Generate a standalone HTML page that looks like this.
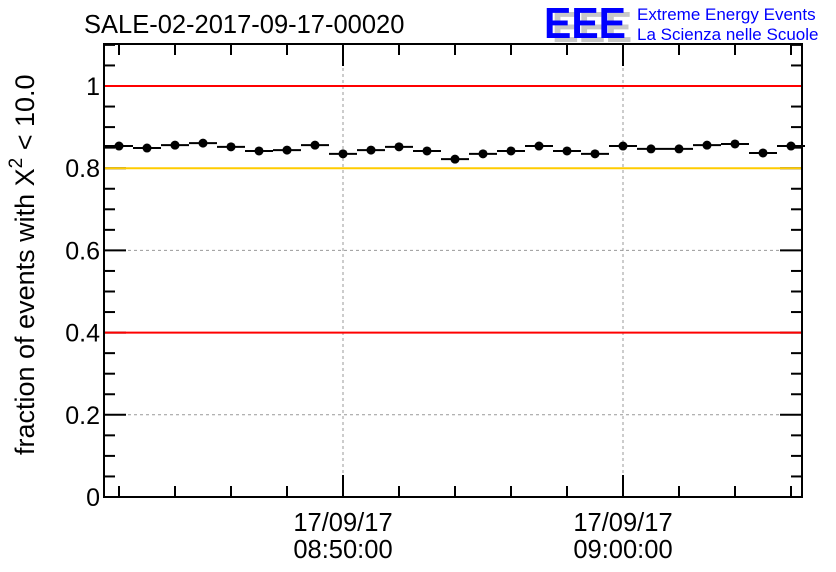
<!DOCTYPE html>
<html><head><meta charset="utf-8"><style>
body{margin:0;background:#fff;width:836px;height:572px;overflow:hidden}
svg{display:block;font-family:"Liberation Sans",sans-serif}
</style></head><body>
<svg id="chart" width="836" height="572" viewBox="0 0 836 572"></svg>
<script>
const times=["08:42","08:43","08:44","08:45","08:46","08:47","08:48","08:49","08:50","08:51","08:52","08:53","08:54","08:55","08:56","08:57","08:58","08:59","09:00","09:01","09:02","09:03","09:04","09:05","09:06"];
const fractions=[0.854,0.849,0.856,0.861,0.852,0.842,0.844,0.856,0.835,0.844,0.852,0.842,0.822,0.835,0.842,0.854,0.842,0.835,0.854,0.847,0.847,0.856,0.859,0.837,0.854];
const yTicks=[0,0.2,0.4,0.6,0.8,1];
const yTickLabels=["0","0.2","0.4","0.6","0.8","1"];
const xLabels=["08:50","09:00"];
const refLines=[{v:1,c:"#ff0000",n:"upper-red-line"},{v:0.8,c:"#ffcc00",n:"yellow-threshold-line"},{v:0.4,c:"#ff0000",n:"lower-red-line"}];

const svg=document.getElementById('chart');
const NS="http://www.w3.org/2000/svg";
const L=104,R=802,T=44,B=497;
const minToMin=s=>{const[h,m]=s.split(':').map(Number);return h*60+m;};
const t0=minToMin("08:50");
const xs=m=>343+(m-t0)*28;
const ys=v=>B-v*411;
function el(tag,attrs,parent){const e=document.createElementNS(NS,tag);for(const k in attrs)e.setAttribute(k,attrs[k]);(parent||svg).appendChild(e);return e;}

// grid
xLabels.forEach(lab=>{const g=el('line',{x1:xs(minToMin(lab)),x2:xs(minToMin(lab)),y1:T,y2:B,stroke:'#999','stroke-dasharray':'3,3'});

});
yTicks.forEach(v=>{if(v===0)return;const g=el('line',{x1:L,x2:R,y1:ys(v),y2:ys(v),stroke:'#999','stroke-dasharray':'3,3'});

});
// y ticks
for(let k=0;k<=22;k++){const v=k*0.05,y=ys(v);const major=k%4===0;const len=major?22:11;
el('line',{x1:L,x2:L+len,y1:y,y2:y,stroke:'#000','stroke-width':2});
el('line',{x1:R-len,x2:R,y1:y,y2:y,stroke:'#000','stroke-width':2});}
// x ticks
for(let m=t0-8;m<=t0+16;m+=2){const x=xs(m);if(x<L||x>R)continue;const major=(m-t0)%10===0;const len=major?22:11;
el('line',{x1:x,x2:x,y1:B-len,y2:B,stroke:'#000','stroke-width':2});
el('line',{x1:x,x2:x,y1:T,y2:T+len,stroke:'#000','stroke-width':2});}
// ref lines
refLines.forEach(r=>{const g=el('line',{x1:L,x2:R,y1:ys(r.v),y2:ys(r.v),stroke:r.c,'stroke-width':2});

});
// data
times.forEach((t,i)=>{const cx=xs(minToMin(t)),cy=ys(fractions[i]);
const h=el('line',{x1:cx-14,x2:cx+14,y1:cy,y2:cy,stroke:'#000','stroke-width':2});


const c=el('circle',{cx:cx,cy:cy,r:4.5,fill:'#000'});

});
// frame
const f=el('rect',{x:L,y:T,width:R-L,height:B-T,fill:'none',stroke:'#000','stroke-width':2});


yTicks.forEach((v,i)=>{const t=el('text',{x:L-4,y:ys(v)+9,'text-anchor':'end','font-size':25});t.textContent=yTickLabels[i];

});
xLabels.forEach(lab=>{const x=xs(minToMin(lab));
const t1=el('text',{x:x,y:531,'text-anchor':'middle','font-size':25.5});t1.textContent='17/09/17';


const t2=el('text',{x:x,y:558,'text-anchor':'middle','font-size':25.5});t2.textContent=lab+':00';

});
</script>
<svg style="position:absolute;left:0;top:0" width="836" height="572">
<text x="84" y="33" font-size="25.5" font-family="Liberation Sans,sans-serif">SALE-02-2017-09-17-00020</text>
<text transform="translate(34,455) rotate(-90)" font-size="27" font-family="Liberation Sans,sans-serif">fraction of events with X<tspan dy="-12" font-size="19">2</tspan><tspan dy="12"> &lt; 10.0</tspan></text>
<g font-family="Liberation Sans,sans-serif" font-weight="bold" font-size="44">
<text x="552" y="42" fill="#c8c8c8" textLength="80" lengthAdjust="spacingAndGlyphs">EEE</text>
<text x="544" y="38" fill="#0000ff" textLength="82" lengthAdjust="spacingAndGlyphs">EEE</text>
</g>
<text x="637" y="20" font-size="17" fill="#0000ff" font-family="Liberation Sans,sans-serif">Extreme Energy Events</text>
<text x="637" y="40" font-size="17" fill="#0000ff" font-family="Liberation Sans,sans-serif">La Scienza nelle Scuole</text>
</svg>
</body></html>
